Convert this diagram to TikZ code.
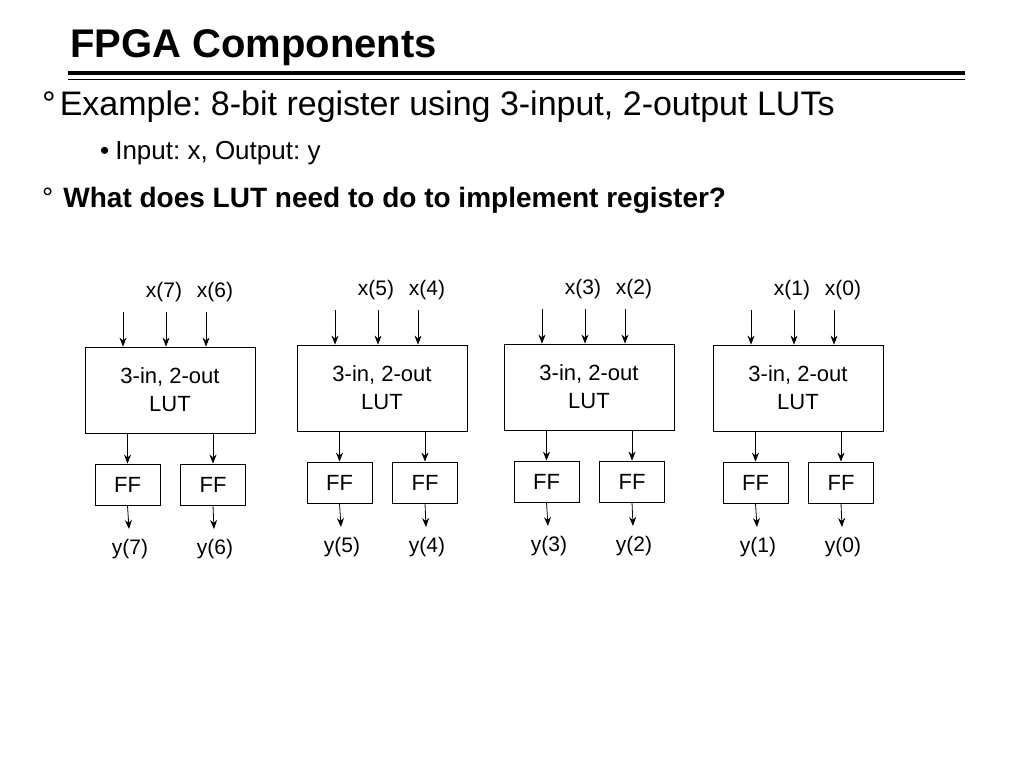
\documentclass[tikz,border=0pt]{standalone}
\usepackage{fontspec}
\setmainfont{Liberation Sans}
\usetikzlibrary{arrows.meta}
\frenchspacing
\begin{document}
\begin{tikzpicture}[x=1pt,y=-1pt,
  lut/.style={draw,thick,minimum width=170pt,minimum height=86pt,inner sep=0pt,align=center,font=\fontsize{22}{28}\selectfont},
  ff/.style={draw,thick,minimum width=65pt,minimum height=41pt,inner sep=0pt,font=\fontsize{22}{24}\selectfont},
  lbl/.style={font=\fontsize{21}{24}\selectfont,inner sep=0pt},
  arr/.style={-{Stealth[length=9pt,width=7pt]},thick}]
\useasboundingbox (0,0) rectangle (1024,768);
\node[anchor=west,font=\fontsize{40}{44}\bfseries\selectfont,inner sep=0pt] (title) at (70,48) {FPGA Components};
\draw[line width=3.5pt] (68,73) -- (965,73);
\draw[line width=1.2pt] (68,79.5) -- (965,79.5);
\node[anchor=west,font=\fontsize{34}{38}\selectfont,inner sep=0pt] (l1) at (42,107) {°\hspace{4pt}Example: 8-bit register using 3-input, 2-output LUTs};
\node[anchor=west,font=\fontsize{26}{30}\selectfont,inner sep=0pt] (l2) at (100,153) {•\hspace{6pt}Input: x, Output: y};
\node[anchor=west,font=\fontsize{28}{32}\selectfont,inner sep=0pt] (l3) at (42,200) {°\hspace{10pt}\bfseries What does LUT need to do to implement register?};
\foreach \i/\dx/\dy/\xa/\xb/\ya/\yb in {1/0/0/7/6/7/6, 2/212/-2/5/4/5/4, 3/419/-3/3/2/3/2, 4/628/-2/1/0/1/0}{
  \begin{scope}[shift={(\dx,\dy)}]
  \node[lut] (lut\i) at (170,390) {3-in, 2-out\\LUT};
  \node[ff] (ffa\i) at (127.5,484.5) {FF};
  \node[ff] (ffb\i) at (213,484.5) {FF};
  \node[lbl] (xa\i) at (164,292) {x(\xa)};
  \node[lbl] (xb\i) at (215,292) {x(\xb)};
  \node[lbl] (ya\i) at (130,549) {y(\ya)};
  \node[lbl] (yb\i) at (215,549) {y(\yb)};
  \coordinate (i1\i) at (123,312);
  \coordinate (i2\i) at (166,312);
  \coordinate (i3\i) at (206,312);
  \coordinate (oa\i) at (129,529);
  \coordinate (ob\i) at (214,529);
  \draw[arr] (i1\i) -- (i1\i |- lut\i.north);
  \draw[arr] (i2\i) -- (i2\i |- lut\i.north);
  \draw[arr] (i3\i) -- (i3\i |- lut\i.north);
  \draw[arr] (lut\i.south -| ffa\i.north) -- (ffa\i.north);
  \draw[arr] (lut\i.south -| ffb\i.north) -- (ffb\i.north);
  \draw[arr] (ffa\i.south) -- (oa\i);
  \draw[arr] (ffb\i.south) -- (ob\i);
  \end{scope}
}
\end{tikzpicture}
\end{document}
